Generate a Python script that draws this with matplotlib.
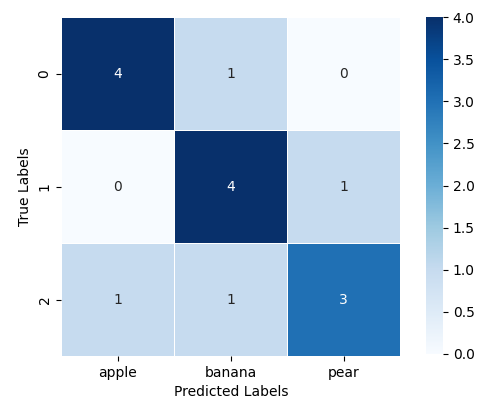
import numpy as np
import matplotlib
matplotlib.use("Agg")
import matplotlib.pyplot as plt
import seaborn as sns

# confusion matrix values
class_names = ["apple", "banana", "pear"]
true_names = ["0", "1", "2"]
cm = np.array([[4, 1, 0],
               [0, 4, 1],
               [1, 1, 3]])

fig = plt.figure(figsize=(4.9, 4.15), dpi=100)
ax = fig.add_axes([0.124, 0.142, 0.694, 0.817])
cax = fig.add_axes([0.869, 0.147, 0.035, 0.812])

sns.heatmap(cm, annot=True, fmt="d", cmap="Blues", linewidths=0.6,
            linecolor="white", square=True, ax=ax, cbar_ax=cax,
            xticklabels=class_names, yticklabels=true_names)

ax.set_xlabel("Predicted Labels")
ax.set_ylabel("True Labels")
plt.setp(ax.get_yticklabels(), rotation=90, va="center")
cax.set_yticks([0, 0.5, 1, 1.5, 2, 2.5, 3, 3.5, 4])
cax.set_yticklabels(["0.0", "0.5", "1.0", "1.5", "2.0", "2.5", "3.0", "3.5", "4.0"])

fig.savefig("out.png", dpi=100)
